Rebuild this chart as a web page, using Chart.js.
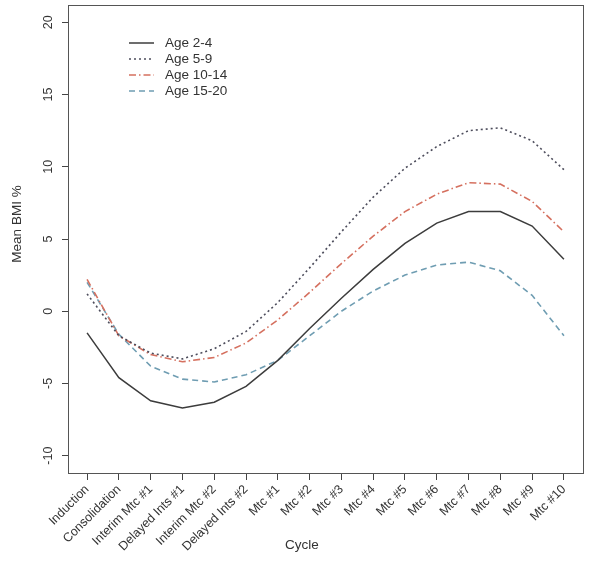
<!DOCTYPE html>
<html>
<head>
<meta charset="utf-8">
<script src="https://cdn.jsdelivr.net/npm/chart.js@4.4.1/dist/chart.umd.min.js"></script>
<style>
  html, body { margin: 0; padding: 0; background: #fff; }
  #wrap { width: 600px; height: 562px; }
</style>
</head>
<body>
<div id="wrap"><canvas id="bmiChart"></canvas></div>
<script>
const cycles = [
    'Induction', 'Consolidation', 'Interim Mtc #1', 'Delayed Ints #1',
    'Interim Mtc #2', 'Delayed Ints #2', 'Mtc #1', 'Mtc #2', 'Mtc #3',
    'Mtc #4', 'Mtc #5', 'Mtc #6', 'Mtc #7', 'Mtc #8', 'Mtc #9', 'Mtc #10'
];
const age2to4 = [-1.5, -4.6, -6.2, -6.7, -6.3, -5.2, -3.4, -1.2, 0.9, 2.9, 4.7, 6.1, 6.9, 6.9, 5.9, 3.6];
const age5to9 = [1.2, -1.7, -2.9, -3.3, -2.6, -1.4, 0.6, 3.0, 5.5, 7.9, 9.9, 11.4, 12.5, 12.7, 11.8, 9.8];
const age10to14 = [2.2, -1.7, -3.0, -3.5, -3.2, -2.2, -0.6, 1.3, 3.3, 5.2, 6.9, 8.1, 8.9, 8.8, 7.6, 5.5];
const age15to20 = [2.0, -1.6, -3.8, -4.7, -4.9, -4.4, -3.4, -1.7, 0.0, 1.4, 2.5, 3.2, 3.4, 2.8, 1.1, -1.7];
const yTicks = [-10, -5, 0, 5, 10, 15, 20];

const FONT = 'Liberation Sans, Arial, sans-serif';
const TEXT = '#333';

const toPoints = arr => arr.map((v, i) => ({ x: i, y: v }));

// R-style extras: box, vertical y labels, axis titles, legend in the corner
const rDecor = {
    id: 'rDecor',
    afterDraw(chart) {
        const { ctx, chartArea: a, scales } = chart;
        ctx.save();
        ctx.strokeStyle = '#555';
        ctx.lineWidth = 1;
        ctx.strokeRect(a.left + 0.5, a.top + 0.5, a.right - a.left, a.bottom - a.top);

        ctx.fillStyle = TEXT;
        ctx.font = '12.5px ' + FONT;
        ctx.textAlign = 'center';
        ctx.textBaseline = 'middle';
        yTicks.forEach(v => {
            const y = scales.y.getPixelForValue(v);
            ctx.save();
            ctx.translate(49, y);
            ctx.rotate(-Math.PI / 2);
            ctx.fillText(String(v), 0, 0);
            ctx.restore();
        });

        ctx.font = '13.5px ' + FONT;
        ctx.save();
        ctx.translate(17, 224);
        ctx.rotate(-Math.PI / 2);
        ctx.fillText('Mean BMI %', 0, 0);
        ctx.restore();
        ctx.fillText('Cycle', 302, 545);

        // legend
        ctx.font = '13.5px ' + FONT;
        ctx.textAlign = 'left';
        const rows = [43, 59, 75, 91];
        chart.data.datasets.forEach((ds, i) => {
            ctx.beginPath();
            ctx.strokeStyle = ds.borderColor;
            ctx.lineWidth = ds.borderWidth;
            ctx.setLineDash(ds.borderDash || []);
            ctx.moveTo(129, rows[i]);
            ctx.lineTo(154, rows[i]);
            ctx.stroke();
            ctx.setLineDash([]);
            ctx.fillStyle = TEXT;
            ctx.fillText(ds.label, 165, rows[i]);
        });
        ctx.restore();
    }
};

new Chart(document.getElementById('bmiChart'), {
    type: 'line',
    data: {
        datasets: [
            { label: 'Age 2-4', data: toPoints(age2to4), borderColor: '#3c3c3c', borderWidth: 1.5 },
            { label: 'Age 5-9', data: toPoints(age5to9), borderColor: '#4d4d5c', borderWidth: 1.6, borderDash: [2, 3] },
            { label: 'Age 10-14', data: toPoints(age10to14), borderColor: '#d5705f', borderWidth: 1.6, borderDash: [7, 3, 1.5, 3] },
            { label: 'Age 15-20', data: toPoints(age15to20), borderColor: '#6f9db2', borderWidth: 1.6, borderDash: [6, 4] }
        ]
    },
    options: {
        responsive: true,
        maintainAspectRatio: false,
        animation: false,
        layout: { padding: { top: 5, right: 17, left: 0, bottom: 0 } },
        elements: { point: { radius: 0 }, line: { tension: 0, fill: false } },
        plugins: { legend: { display: false }, tooltip: { enabled: false } },
        scales: {
            x: {
                type: 'linear',
                min: -0.6,
                max: 15.6,
                afterBuildTicks: s => { s.ticks = cycles.map((c, i) => ({ value: i })); },
                afterFit: s => { s.height = 89; },
                ticks: {
                    autoSkip: false,
                    minRotation: 45,
                    maxRotation: 45,
                    padding: 2,
                    color: TEXT,
                    font: { family: FONT, size: 12.5 },
                    callback: v => cycles[v]
                },
                grid: { drawOnChartArea: false, tickLength: 7, color: '#444' },
                border: { display: false }
            },
            y: {
                min: -11.2,
                max: 21.2,
                afterBuildTicks: s => { s.ticks = yTicks.map(v => ({ value: v })); },
                afterFit: s => { s.width = 68; },
                ticks: { display: false },
                grid: { drawOnChartArea: false, tickLength: 6, color: '#444' },
                border: { display: false }
            }
        }
    },
    plugins: [rDecor]
});
</script>
</body>
</html>
